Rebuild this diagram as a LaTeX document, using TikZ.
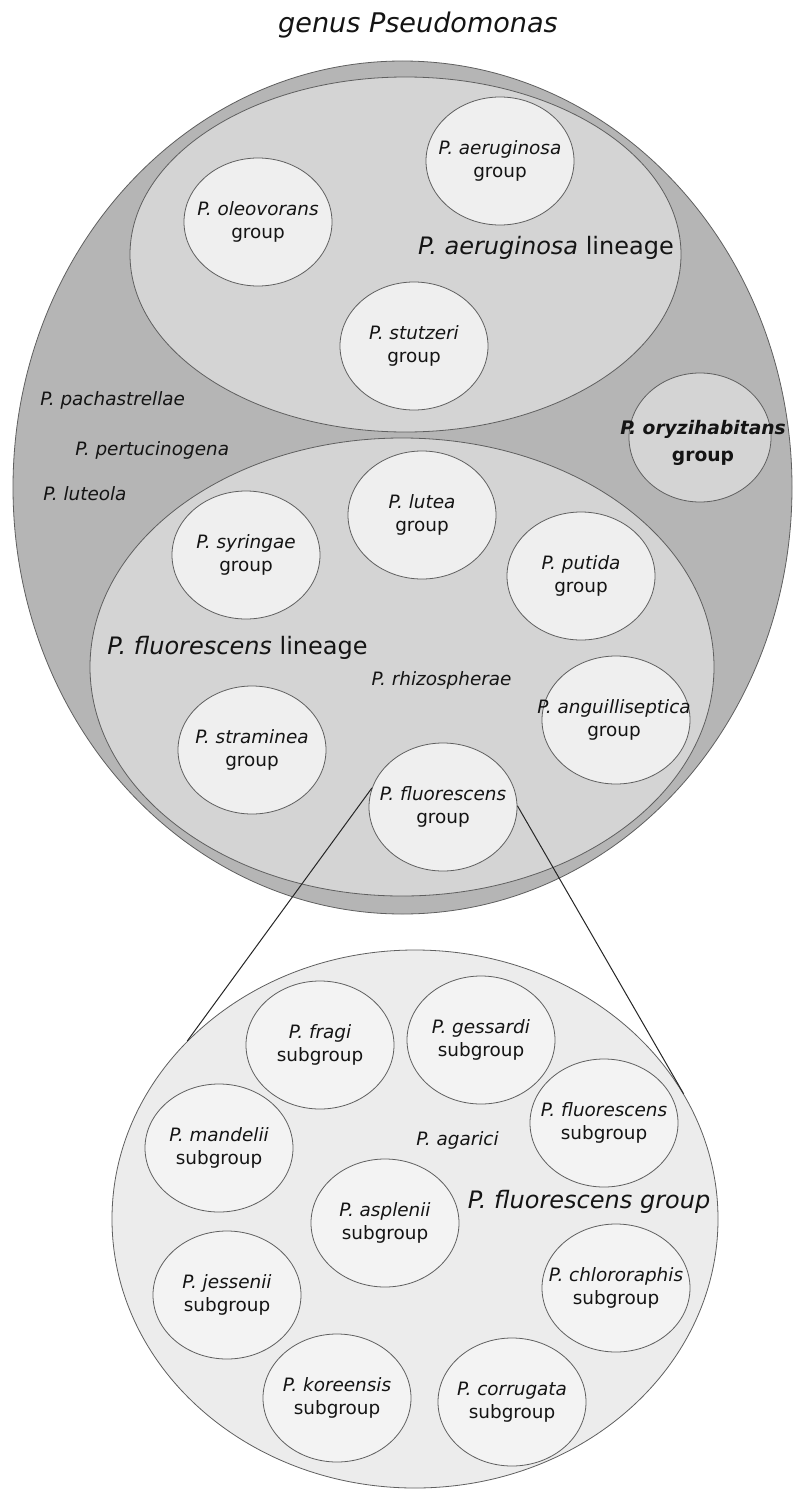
\documentclass[tikz,border=0pt]{standalone}
\usepackage{fontspec}
\setmainfont{DejaVu Sans}[ItalicFont={DejaVu Sans Oblique},BoldFont={DejaVu Sans Bold},BoldItalicFont={DejaVu Sans Bold Oblique}]
\usetikzlibrary{shapes.geometric}
\definecolor{gOuter}{RGB}{181,181,181}
\definecolor{gLin}{RGB}{212,212,212}
\definecolor{gGrp}{RGB}{239,239,239}
\definecolor{gBig}{RGB}{236,236,236}
\definecolor{gSub}{RGB}{243,243,243}
\definecolor{gEdge}{RGB}{95,95,95}
\definecolor{gTxt}{RGB}{20,20,20}
\newcommand\labfont{\fontsize{13.8}{17.5}\selectfont}
\newcommand\bigfont{\fontsize{18}{22}\selectfont}
\begin{document}
\begin{tikzpicture}[x=0.75pt,y=-0.75pt,
  shp/.style={ellipse,draw=gEdge,line width=0.6pt,inner sep=0pt},
  grpshape/.style={shp,fill=gGrp,minimum width=111pt,minimum height=96pt},
  subshape/.style={shp,fill=gSub,minimum width=111pt,minimum height=96pt},
  lab/.style={font=\labfont,text=gTxt,align=center,inner sep=0pt},
  biglab/.style={font=\bigfont,text=gTxt,align=center,inner sep=0pt},
  zoomline/.style={draw=black!85,line width=0.75pt}]
\fill[white] (0,0) rectangle (794,1495);
\useasboundingbox (0,0) rectangle (794,1495);

% title
\node[font=\fontsize{20.3}{24}\selectfont\itshape,text=gTxt,inner sep=0pt] (title) at (418,25) {genus Pseudomonas};

% genus ellipse and lineages
\node[shp,fill=gOuter,minimum width=584.25pt,minimum height=639.75pt] (genus) at (402.5,487.5) {};
\node[shp,fill=gLin,minimum width=413.25pt,minimum height=266.25pt] (aerlin) at (405.5,254.5) {};
\node[shp,fill=gLin,minimum width=468pt,minimum height=343.5pt] (fluolin) at (402,667) {};

% P. aeruginosa lineage
\node[grpshape] (aer) at (500,161) {};
\node[lab] (aer-t) at (aer.center) {\textit{P. aeruginosa}\\group};
\node[grpshape] (oleo) at (258,222) {};
\node[lab] (oleo-t) at (oleo.center) {\textit{P. oleovorans}\\group};
\node[grpshape] (stut) at (414,346) {};
\node[lab] (stut-t) at (stut.center) {\textit{P. stutzeri}\\group};
\node[biglab] (aerlin-t) at (546,248) {\textit{P. aeruginosa} lineage};

% free species
\node[lab,anchor=west] (pach) at (40,400) {\textit{P. pachastrellae}};
\node[lab,anchor=west] (pert) at (75,450) {\textit{P. pertucinogena}};
\node[lab,anchor=west] (lute) at (43,494) {\textit{P. luteola}};

% P. oryzihabitans group
\node[shp,fill=gLin,minimum width=106.5pt,minimum height=96.75pt] (ory) at (700,437.5) {};
\node[font=\fontsize{14}{20}\selectfont\bfseries,text=gTxt,align=center,inner sep=0pt] (ory-t) at (703,443) {\textit{P. oryzihabitans}\\group};

% P. fluorescens lineage
\node[grpshape] (lutea) at (422,515) {};
\node[lab] (lutea-t) at (lutea.center) {\textit{P. lutea}\\group};
\node[grpshape] (syr) at (246,555) {};
\node[lab] (syr-t) at (syr.center) {\textit{P. syringae}\\group};
\node[grpshape] (put) at (581,576) {};
\node[lab] (put-t) at (put.center) {\textit{P. putida}\\group};
\node[grpshape] (ang) at (616,720) {};
\node[lab] (ang-t) at (614,720) {\textit{P. anguilliseptica}\\group};
\node[grpshape] (stram) at (252,750) {};
\node[lab] (stram-t) at (stram.center) {\textit{P. straminea}\\group};
\node[grpshape] (fgrp) at (443,807) {};
\node[lab] (fgrp-t) at (fgrp.center) {\textit{P. fluorescens}\\group};
\node[biglab] (fluolin-t) at (237.5,648) {\textit{P. fluorescens} lineage};
\node[lab] (rhizo) at (441.5,680) {\textit{P. rhizospherae}};

% P. fluorescens group (enlarged)
\node[shp,fill=gBig,minimum width=454.5pt,minimum height=403.5pt] (big) at (415,1219) {};
\node[subshape] (fragi) at (320,1045) {};
\node[lab] (fragi-t) at (fragi.center) {\textit{P. fragi}\\subgroup};
\node[subshape] (gess) at (481,1040) {};
\node[lab] (gess-t) at (gess.center) {\textit{P. gessardi}\\subgroup};
\node[subshape] (fsub) at (604,1123) {};
\node[lab] (fsub-t) at (fsub.center) {\textit{P. fluorescens}\\subgroup};
\node[subshape] (mand) at (219,1148) {};
\node[lab] (mand-t) at (mand.center) {\textit{P. mandelii}\\subgroup};
\node[subshape] (aspl) at (385,1223) {};
\node[lab] (aspl-t) at (aspl.center) {\textit{P. asplenii}\\subgroup};
\node[subshape] (jess) at (227,1295) {};
\node[lab] (jess-t) at (jess.center) {\textit{P. jessenii}\\subgroup};
\node[subshape] (chlo) at (616,1288) {};
\node[lab] (chlo-t) at (chlo.center) {\textit{P. chlororaphis}\\subgroup};
\node[subshape] (kore) at (337,1398) {};
\node[lab] (kore-t) at (kore.center) {\textit{P. koreensis}\\subgroup};
\node[subshape] (corr) at (512,1402) {};
\node[lab] (corr-t) at (corr.center) {\textit{P. corrugata}\\subgroup};
\node[lab] (agar) at (457.5,1140) {\textit{P. agarici}};
\node[biglab,font=\bigfont\itshape] (big-t) at (589,1202) {P. fluorescens group};

% zoom connectors
\draw[zoomline] (fgrp.165.4) -- (big.142.7);
\draw[zoomline] (fgrp.1.5) -- (big.25.4);
\end{tikzpicture}
\end{document}
